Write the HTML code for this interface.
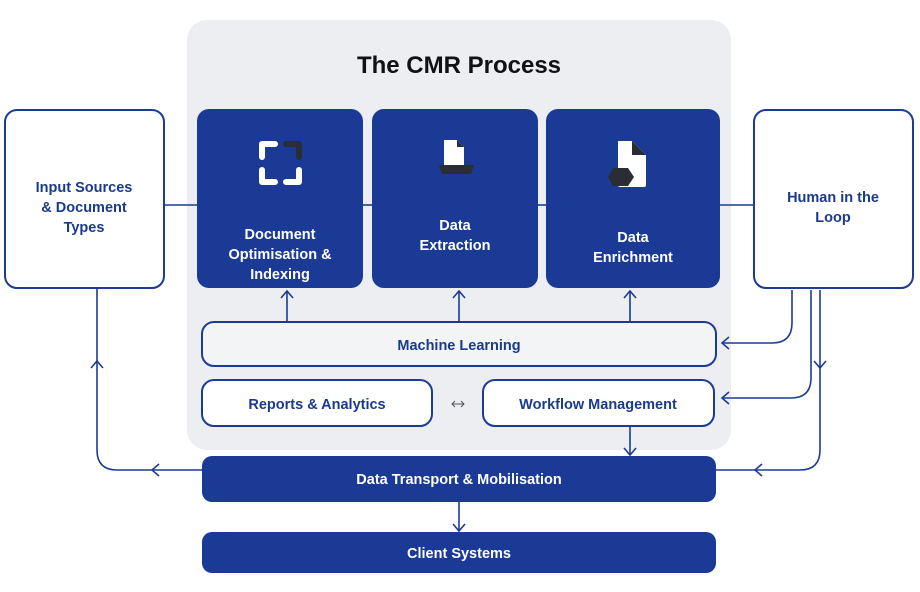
<!DOCTYPE html>
<html><head><meta charset="utf-8"><style>
html,body{margin:0;padding:0;background:#fff;}
svg{display:block;}
text{font-family:"Liberation Sans",sans-serif;font-weight:bold;}
</style></head><body>
<svg width="920" height="592" viewBox="0 0 920 592" xmlns="http://www.w3.org/2000/svg">
<rect x="187" y="20" width="544" height="430" rx="20" fill="#eceef2"/>
<text x="459" y="73" text-anchor="middle" font-size="24" fill="#111">The CMR Process</text>
<g stroke="#1c3c94" stroke-width="1.6" fill="none">
<line x1="164" y1="205" x2="197" y2="205"/><line x1="363" y1="205" x2="372" y2="205"/>
<line x1="538" y1="205" x2="546" y2="205"/><line x1="720" y1="205" x2="753" y2="205"/>
<line x1="287" y1="322" x2="287" y2="291"/><polyline points="281,298 287,291 293,298"/>
<line x1="459" y1="322" x2="459" y2="291"/><polyline points="453,298 459,291 465,298"/>
<line x1="630" y1="322" x2="630" y2="291"/><polyline points="624,298 630,291 636,298"/>
<line x1="630" y1="426" x2="630" y2="455"/><polyline points="624,448 630,455 636,448"/>
<line x1="459" y1="502" x2="459" y2="531"/><polyline points="453,524 459,531 465,524"/>
<path d="M97 288 V450 Q97 470 117 470 H202"/><polyline points="91,368 97,361 103,368"/><polyline points="159,464 152,470 159,476"/>
<path d="M792 290 V323 Q792 343 772 343 H722"/><polyline points="729,337 722,343 729,349"/>
<path d="M811 290 V378 Q811 398 791 398 H722"/><polyline points="729,392 722,398 729,404"/>
<path d="M820 290 V450 Q820 470 800 470 H716"/><polyline points="814,361 820,368 826,361"/><polyline points="762,464 755,470 762,476"/>
</g>
<rect x="5" y="110" width="159" height="178" rx="12" fill="#fff" stroke="#1c3c94" stroke-width="2"/>
<text text-anchor="middle" font-size="14.5" fill="#1a3a8c"><tspan x="84" y="192">Input Sources</tspan><tspan x="84" y="212">&amp; Document</tspan><tspan x="84" y="232">Types</tspan></text>
<rect x="754" y="110" width="159" height="178" rx="12" fill="#fff" stroke="#1c3c94" stroke-width="2"/>
<text text-anchor="middle" font-size="14.5" fill="#1a3a8c"><tspan x="833" y="202">Human in the</tspan><tspan x="833" y="222">Loop</tspan></text>
<g fill="#1a3a96">
<rect x="197" y="109" width="166" height="179" rx="12"/>
<rect x="372" y="109" width="166" height="179" rx="12"/>
<rect x="546" y="109" width="174" height="179" rx="12"/>
</g>
<g stroke-linejoin="round" stroke-linecap="round" fill="none" stroke-width="6">
<path d="M262 157 V144 H275" stroke="#fff"/>
<path d="M262 170 V182 H275" stroke="#fff"/>
<path d="M286 182 H299 V170" stroke="#fff"/>
<path d="M286 144 H299 V157" stroke="#2a2d33"/>
</g>
<g fill="#fff">
<path d="M444 140 h13 l7 7 v18 h-20z"/><path d="M457 140 l7 7 h-7z" fill="#2a2d33"/>
<path d="M439 165 h35 l-3 9 h-29z" fill="#2a2d33"/>
<path d="M618 141 h14 l14 14 v30 q0 2 -2 2 h-24 q-2 0 -2 -2z"/><path d="M632 141 l14 14 h-14z" fill="#2a2d33"/>
<path d="M613 168 h15 l6 9 l-6 9 h-15 l-5 -9z" fill="#2a2d33"/>
</g>
<g text-anchor="middle" font-size="14.5" fill="#fff">
<text><tspan x="280" y="239">Document</tspan><tspan x="280" y="259">Optimisation &amp;</tspan><tspan x="280" y="279">Indexing</tspan></text>
<text><tspan x="455" y="230">Data</tspan><tspan x="455" y="250">Extraction</tspan></text>
<text><tspan x="633" y="242">Data</tspan><tspan x="633" y="262">Enrichment</tspan></text>
</g>
<rect x="202" y="322" width="514" height="44" rx="12" fill="#f3f4f6" stroke="#1c3c94" stroke-width="2"/>
<text x="459" y="350" text-anchor="middle" font-size="14.5" fill="#1a3a8c">Machine Learning</text>
<rect x="202" y="380" width="230" height="46" rx="12" fill="#fff" stroke="#1c3c94" stroke-width="2"/>
<text x="317" y="409" text-anchor="middle" font-size="14.5" fill="#1a3a8c">Reports &amp; Analytics</text>
<rect x="483" y="380" width="231" height="46" rx="12" fill="#fff" stroke="#1c3c94" stroke-width="2"/>
<text x="598" y="409" text-anchor="middle" font-size="14.5" fill="#1a3a8c">Workflow Management</text>
<g stroke="#555" stroke-width="1" fill="none"><line x1="452" y1="404" x2="464" y2="404"/><polyline points="455,401 452,404 455,407"/><polyline points="461,401 464,404 461,407"/></g>
<rect x="202" y="456" width="514" height="46" rx="10" fill="#1a3a96"/>
<text x="459" y="484" text-anchor="middle" font-size="14.5" fill="#fff">Data Transport &amp; Mobilisation</text>
<rect x="202" y="532" width="514" height="41" rx="10" fill="#1a3a96"/>
<text x="459" y="558" text-anchor="middle" font-size="14.5" fill="#fff">Client Systems</text>
</svg>
</body></html>
